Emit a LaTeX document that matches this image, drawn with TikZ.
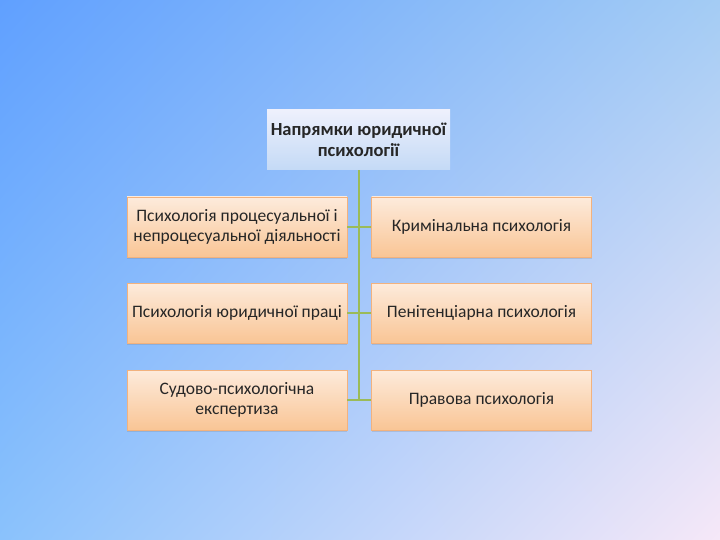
\documentclass[tikz,border=0pt]{standalone}
\usepackage{fontspec}
\setmainfont{Carlito}
\usetikzlibrary{shadows,shadings}
\definecolor{bgUL}{HTML}{60A0FF}
\definecolor{bgUR}{HTML}{A4CCF4}
\definecolor{bgLL}{HTML}{8AC2FC}
\definecolor{bgLR}{HTML}{F6E8F8}
\definecolor{peachTop}{HTML}{FDEBDC}
\definecolor{peachBot}{HTML}{F9C595}
\definecolor{peachLine}{HTML}{F2B27E}
\definecolor{topTop}{HTML}{EEF0FC}
\definecolor{topBot}{HTML}{C4DAF6}
\definecolor{conn}{HTML}{9BBB59}
\tikzset{
  leafbox/.style={draw=peachLine, line width=0.6pt, top color=peachTop, bottom color=peachBot,
    minimum width=220pt, minimum height=60pt, inner sep=1pt, align=center, font=\fontsize{17.5}{20}\selectfont,
    text=black!85, drop shadow={shadow xshift=0pt, shadow yshift=-2pt, opacity=0.25}},
  headbox/.style={top color=topTop, bottom color=topBot, minimum width=183pt, minimum height=60pt,
    inner sep=1pt, align=center, font=\bfseries\fontsize{18.5}{21}\selectfont, text=black!85},
  connline/.style={draw=conn, line width=1.5pt}
}
\begin{document}
\begin{tikzpicture}[x=1pt,y=-1pt]
\useasboundingbox (0,0) rectangle (720,540);
\shade[upper left=bgUL, upper right=bgUR, lower left=bgLL, lower right=bgLR] (0,0) rectangle (720,540);
\node[headbox] (head) at (358.5,140) {Напрямки юридичної\\психології};
\node[leafbox] (l1) at (237,227) {Психологія процесуальної і\\непроцесуальної діяльності};
\node[leafbox] (l2) at (237,313) {Психологія юридичної праці};
\node[leafbox] (l3) at (237,400) {Судово-психологічна\\експертиза};
\node[leafbox] (r1) at (481.5,227) {Кримінальна психологія};
\node[leafbox] (r2) at (481.5,313) {Пенітенціарна психологія};
\node[leafbox] (r3) at (481.5,400) {Правова психологія};
\coordinate (trunk) at (359,400);
\draw[connline] (head.south -| trunk) -- (trunk);
\foreach \a/\b in {l1/r1,l2/r2,l3/r3}{
  \draw[connline] (\a.east) -- (\b.west);
}
\end{tikzpicture}
\end{document}
